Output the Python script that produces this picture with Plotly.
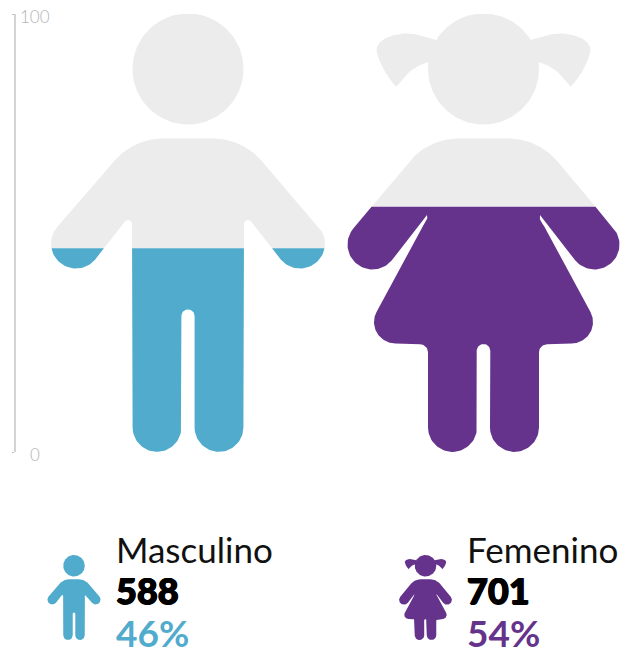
import numpy as np
import plotly.graph_objects as go

# ---------- data ----------
categories = ["Masculino", "Femenino"]
counts = [588, 701]
percent_labels = ["46%", "54%"]
fill_levels = [46.5, 56.0]          # height of the colour fill, read on the 0-100 axis
colors = ["#50ABCC", "#65338B"]
text_colors = ["#50ABCC", "#65338B"]
axis_ticks = [0, 100]
GREY = "#ECECEC"

W, H = 629, 650
AXIS_TOP_PX, AXIS_BOTTOM_PX = 14.0, 452.0
ICON_CX = [188.0, 483.5]
SMALL_CX = [74.0, 425.5]
SMALL_TOP = 555.0
SMALL_SCALE = 0.194
ICON_TOP = 13.5
TEXT_X = [114, 465]
FONT = "Lato"


# ---------- silhouette helpers (local units: dx from centre, y in px) ----------
def arc(cx, cy, r, a0, a1, n=48):
    t = np.radians(np.linspace(a0, a1, n))
    return np.column_stack([cx + r * np.cos(t), cy + r * np.sin(t)])


def cubic(p0, p1, p2, p3, n=30):
    t = np.linspace(0, 1, n)[:, None]
    p0, p1, p2, p3 = map(np.array, (p0, p1, p2, p3))
    return (1 - t) ** 3 * p0 + 3 * (1 - t) ** 2 * t * p1 + 3 * (1 - t) * t ** 2 * p2 + t ** 3 * p3


def mirror_close(right):
    left = right[::-1].copy()
    left[:, 0] *= -1
    return np.vstack([right, left])


def mirror(poly):
    m = poly.copy()
    m[:, 0] *= -1
    return m


def boy_parts(head_y=69.0):
    right = np.vstack([
        arc(25, 202.5, 64, -90, -40.5),
        arc(112, 243.5, 25, -40.5, 139.5),
        arc(60, 224.0, 4.0, -40.5, -180, 12),
        arc(31, 427.4, 24.4, 0, 180),
        arc(0, 316, 6.6, 0, -90, 16),
    ])
    return [arc(0, head_y, 55.5, 0, 360, 120), mirror_close(right)]


def girl_parts(head_y=69.0):
    right = np.vstack([
        arc(25, 202.5, 64, -90, -40.5),
        arc(111, 244.5, 25, -40.5, 140),
        np.array([[56.5, 215.0]]),
        cubic((56.5, 215), (55.5, 219), (57, 221), (60.5, 226), 12),
        arc(88, 322, 21.5, -28, 90),
        arc(63.5, 352.3, 8, -90, -180, 14),
        arc(31, 427.4, 24.5, 0, 180),
        arc(0, 350.8, 6.8, 0, -90, 16),
    ])
    tail = np.vstack([
        cubic((47, 40), (57, 37), (66, 33.5), (76, 33.5)),
        cubic((76, 33.5), (92, 33.5), (107, 40), (107, 50)),
        cubic((107, 50), (106, 60), (97, 76), (89, 85)),
        cubic((89, 85), (88, 87), (87, 87), (86, 85), 8),
        cubic((86, 85), (78, 74), (68, 65), (56, 62.5)),
        np.array([[30.0, 62.0]]),
    ])
    return [tail, mirror(tail), arc(0, head_y, 55.5, 0, 360, 120), mirror_close(right)]


def clip(poly, level, keep_above):
    """Clip a closed polygon with a horizontal line (y grows upward in `poly`)."""
    out = []
    n = len(poly)
    inside = (lambda p: p[1] >= level) if keep_above else (lambda p: p[1] <= level)
    for i in range(n):
        a, b = poly[i], poly[(i + 1) % n]
        ia, ib = inside(a), inside(b)
        if ia:
            out.append(a)
        if ia != ib:
            t = (level - a[1]) / (b[1] - a[1])
            out.append(a + t * (b - a))
    return np.array(out) if out else None


def px_to_val(py):
    return 100 * (AXIS_BOTTOM_PX - py) / (AXIS_BOTTOM_PX - AXIS_TOP_PX)


fig = go.Figure()


def add_poly(poly, color, yaxis):
    fig.add_trace(go.Scatter(
        x=poly[:, 0], y=poly[:, 1], mode="lines", fill="toself", fillcolor=color,
        line=dict(width=0, color=color), hoverinfo="skip", showlegend=False, yaxis=yaxis,
    ))


builders = [boy_parts, girl_parts]
for i, build in enumerate(builders):
    # large pictogram, filled up to the level on the 0-100 axis
    for part in build():
        p = np.column_stack([ICON_CX[i] + part[:, 0], px_to_val(part[:, 1])])
        above = clip(p, fill_levels[i], True)
        below = clip(p, fill_levels[i], False)
        if above is not None:
            add_poly(above, GREY, "y")
        if below is not None:
            add_poly(below, colors[i], "y")
    # small legend pictogram
    for part in build():
        p = np.column_stack([SMALL_CX[i] + SMALL_SCALE * part[:, 0],
                             SMALL_TOP + SMALL_SCALE * (part[:, 1] - ICON_TOP)])
        add_poly(p, colors[i], "y2")

annotations = []
for i in range(2):
    annotations += [
        dict(x=TEXT_X[i], y=549, xref="x", yref="y2", text=categories[i], showarrow=False,
             xanchor="left", yanchor="middle", font=dict(family=FONT, size=35, color="#111111")),
        dict(x=TEXT_X[i], y=589.5, xref="x", yref="y2", text=str(counts[i]), showarrow=False,
             xanchor="left", yanchor="middle",
             font=dict(family=FONT, size=36, color="#000000", weight=900,
                       shadow="0.7px 0 0 #000, -0.7px 0 0 #000, 0 0.5px 0 #000, 0 -0.5px 0 #000")),
        dict(x=TEXT_X[i], y=632, xref="x", yref="y2", text=percent_labels[i], showarrow=False,
             xanchor="left", yanchor="middle", height=36,
             font=dict(family=FONT, size=37, color=text_colors[i], weight=700)),
    ]
for v, label_y in zip(axis_ticks, [454, 16]):
    annotations.append(dict(x=35, y=label_y, xref="x", yref="y2", text=str(v), showarrow=False,
                            xanchor="center", yanchor="middle",
                            font=dict(family=FONT, size=17, color="#B4B4B4", weight=300)))

fig.update_layout(
    width=W, height=H, margin=dict(l=0, r=0, t=0, b=0), autosize=False,
    paper_bgcolor="white", plot_bgcolor="rgba(0,0,0,0)", showlegend=False,
    xaxis=dict(range=[0, W], domain=[0, 1], visible=False, fixedrange=True),
    yaxis=dict(range=[0, 100], domain=[(H - AXIS_BOTTOM_PX) / H, (H - AXIS_TOP_PX) / H],
               anchor="free", position=15 / W, showline=True, linecolor="#D4D4D4", linewidth=2,
               tickvals=axis_ticks, ticks="outside", ticklen=2, tickwidth=1, tickcolor="#BDBDBD",
               showticklabels=False, showgrid=False, zeroline=False, fixedrange=True),
    yaxis2=dict(range=[H, 0], domain=[0, 1], anchor="x", visible=False, fixedrange=True),
    annotations=annotations,
)
fig.write_html("out.html", config={"displayModeBar": False},
               post_script="document.body.style.margin='0';document.documentElement.style.overflow='hidden';")
